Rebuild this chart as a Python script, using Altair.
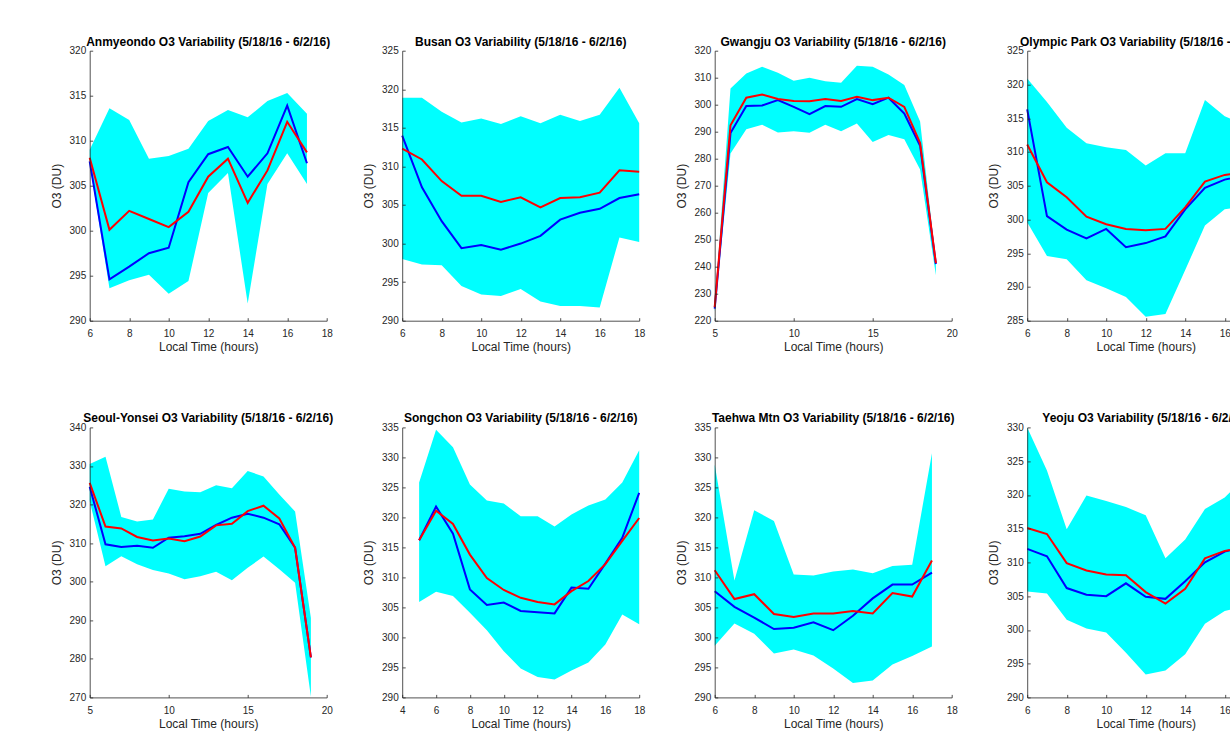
import altair as alt
import pandas as pd

# ---------------- data ----------------
TITLE_SUFFIX = " O3 Variability (5/18/16 - 6/2/16)"

ANM_HOURS = [6, 7, 8, 9, 10, 11, 12, 13, 14, 15, 16, 17]
ANM_BLUE = [307.7, 294.6, 296.0, 297.5, 298.1, 305.4, 308.5, 309.3, 306.0, 308.6, 313.9, 307.5]
ANM_RED = [308.1, 300.1, 302.2, 301.3, 300.4, 302.1, 306.0, 308.0, 303.1, 306.7, 312.1, 308.7]
ANM_MAX = [309.0, 313.6, 312.3, 308.0, 308.3, 309.1, 312.2, 313.4, 312.6, 314.4, 315.3, 313.0]
ANM_MIN = [307.4, 293.6, 294.5, 295.1, 293.0, 294.4, 304.2, 306.4, 291.9, 305.2, 308.6, 305.2]

BUS_HOURS = [6, 7, 8, 9, 10, 11, 12, 13, 14, 15, 16, 17, 18]
BUS_BLUE = [314.0, 307.3, 302.9, 299.4, 299.8, 299.2, 300.0, 301.0, 303.1, 304.0, 304.5, 305.9, 306.4]
BUS_RED = [312.3, 310.9, 308.1, 306.2, 306.2, 305.4, 306.0, 304.7, 305.9, 306.0, 306.6, 309.5, 309.3]
BUS_MAX = [318.9, 318.9, 317.1, 315.7, 316.2, 315.5, 316.5, 315.6, 316.7, 315.9, 316.7, 320.2, 315.6]
BUS_MIN = [298.0, 297.3, 297.2, 294.5, 293.4, 293.2, 294.1, 292.5, 291.9, 291.9, 291.7, 300.8, 300.2]

GWA_HOURS = [5, 6, 7, 8, 9, 10, 11, 12, 13, 14, 15, 16, 17, 18, 19]
GWA_BLUE = [224.5, 289.5, 299.5, 299.7, 301.7, 299.2, 296.5, 299.5, 299.2, 302.1, 300.2, 302.6, 296.7, 284.8, 241.0]
GWA_RED = [225.0, 292.4, 302.6, 303.8, 302.1, 301.4, 301.3, 302.1, 301.4, 302.9, 301.7, 302.6, 299.2, 285.8, 241.3]
GWA_MAX = [225.5, 306.0, 311.6, 314.1, 311.8, 308.9, 310.0, 308.7, 308.1, 314.4, 314.1, 311.2, 307.3, 293.8, 242.0]
GWA_MIN = [223.3, 281.9, 290.9, 292.6, 289.7, 290.2, 289.6, 292.6, 290.2, 293.0, 286.2, 288.8, 287.2, 276.0, 236.8]

OLY_HOURS = [6, 7, 8, 9, 10, 11, 12, 13, 14, 15, 16, 17]
OLY_BLUE = [316.3, 300.5, 298.5, 297.2, 298.6, 295.9, 296.5, 297.5, 301.5, 304.7, 305.9, 306.5]
OLY_RED = [311.1, 305.5, 303.3, 300.4, 299.3, 298.6, 298.4, 298.6, 301.8, 305.6, 306.6, 307.0]
OLY_MAX = [320.9, 317.4, 313.6, 311.3, 310.7, 310.3, 308.0, 309.8, 309.8, 317.7, 315.3, 314.0]
OLY_MIN = [299.6, 294.6, 294.1, 291.0, 289.8, 288.5, 285.6, 286.0, 292.5, 299.1, 301.5, 302.0]

SEO_HOURS = [5, 6, 7, 8, 9, 10, 11, 12, 13, 14, 15, 16, 17, 18, 19]
SEO_BLUE = [324.6, 309.7, 309.0, 309.3, 308.8, 311.4, 311.8, 312.4, 314.7, 316.6, 317.6, 316.6, 314.9, 308.8, 280.4]
SEO_RED = [325.6, 314.3, 313.8, 311.6, 310.7, 311.2, 310.5, 311.7, 314.6, 315.0, 318.3, 319.7, 316.4, 308.8, 280.4]
SEO_MAX = [330.5, 332.4, 316.8, 315.6, 316.1, 324.1, 323.4, 323.2, 325.0, 324.2, 328.7, 327.3, 322.6, 318.2, 290.6]
SEO_MIN = [320.9, 304.0, 306.6, 304.5, 303.0, 302.1, 300.6, 301.4, 302.6, 300.4, 303.6, 306.5, 303.2, 299.7, 270.2]

SON_HOURS = [5, 6, 7, 8, 9, 10, 11, 12, 13, 14, 15, 16, 17, 18]
SON_BLUE = [316.2, 321.8, 317.3, 308.0, 305.4, 305.8, 304.4, 304.2, 304.0, 308.3, 308.1, 312.3, 316.6, 324.1]
SON_RED = [316.2, 321.1, 318.9, 313.8, 309.9, 307.9, 306.6, 305.9, 305.5, 307.7, 309.4, 312.2, 316.1, 319.9]
SON_MAX = [325.8, 334.6, 331.7, 325.5, 322.8, 322.3, 320.2, 320.2, 318.5, 320.5, 322.0, 323.0, 325.8, 331.2]
SON_MIN = [305.9, 307.6, 306.9, 304.1, 301.2, 297.7, 294.8, 293.4, 293.0, 294.5, 295.8, 298.8, 303.8, 302.2]

TAE_HOURS = [6, 7, 8, 9, 10, 11, 12, 13, 14, 15, 16, 17]
TAE_BLUE = [307.7, 305.1, 303.3, 301.4, 301.6, 302.5, 301.2, 303.6, 306.5, 308.8, 308.8, 310.8]
TAE_RED = [311.2, 306.4, 307.2, 303.9, 303.4, 304.0, 304.0, 304.4, 304.0, 307.4, 306.8, 312.8]
TAE_MAX = [328.8, 309.5, 321.2, 319.4, 310.5, 310.3, 311.0, 311.3, 310.7, 311.9, 312.1, 330.7]
TAE_MIN = [298.6, 302.3, 300.6, 297.3, 298.0, 297.0, 294.8, 292.4, 292.8, 295.5, 296.9, 298.5]

YEO_HOURS = [6, 7, 8, 9, 10, 11, 12, 13, 14, 15, 16, 17]
YEO_BLUE = [312.0, 310.9, 306.2, 305.2, 305.0, 306.9, 304.9, 304.6, 307.2, 310.0, 311.6, 312.3]
YEO_RED = [315.1, 314.2, 309.9, 308.8, 308.2, 308.1, 305.6, 303.9, 306.1, 310.6, 311.7, 312.2]
YEO_MAX = [330.0, 323.6, 314.9, 319.9, 319.1, 318.2, 317.0, 310.6, 313.4, 317.9, 319.6, 322.5]
YEO_MIN = [305.7, 305.4, 301.5, 300.2, 299.6, 296.6, 293.4, 294.0, 296.4, 300.9, 302.8, 303.5]

# axis ranges / tick values per panel
X_6_18 = [6, 8, 10, 12, 14, 16, 18]
X_5_20 = [5, 10, 15, 20]
X_4_18 = [4, 6, 8, 10, 12, 14, 16, 18]

FONT = "Liberation Sans"
AX = "#262626"
PW, PH = 237, 270
LEFT, TOP = 89.7, 50.7


def panel(name, hours, blue, red, lo, hi, xdom, xticks, ydom, ystep):
    yticks = list(range(ydom[0], ydom[1] + 1, ystep))
    df = pd.DataFrame({"hour": hours, "blue": blue, "red": red, "lo": lo, "hi": hi})
    xs = alt.Scale(domain=xdom, nice=False, zero=False)
    ys = alt.Scale(domain=ydom, nice=False, zero=False)
    ghost_x = alt.Axis(orient="bottom", values=xticks, offset=-3, domain=False, labels=False,
                       ticks=True, tickSize=3, tickColor=AX, tickWidth=0.8, grid=False,
                       title=None, zindex=1)
    ghost_y = alt.Axis(orient="left", values=yticks, offset=-3, domain=False, labels=False,
                       ticks=True, tickSize=3, tickColor=AX, tickWidth=0.8, grid=False,
                       title=None, zindex=1)
    main_x = alt.Axis(orient="bottom", values=xticks, domain=True, domainColor=AX,
                      domainWidth=0.8, ticks=False, labelPadding=8, labelFlush=False,
                      labelOverlap=False, labelColor=AX, labelFontSize=10, labelFont=FONT,
                      grid=False, title="Local Time (hours)", titleFont=FONT,
                      titleFontSize=12, titleFontWeight="normal", titleColor=AX,
                      titlePadding=3, zindex=1)
    main_y = alt.Axis(orient="left", values=yticks, domain=True, domainColor=AX,
                      domainWidth=0.8, ticks=False, labelPadding=4, labelFlush=False,
                      labelOverlap=False, labelColor=AX, labelFontSize=10, labelFont=FONT,
                      grid=False, title="O3 (DU)", titleFont=FONT, titleFontSize=12,
                      titleFontWeight="normal", titleColor=AX, titlePadding=6, zindex=1)
    base = alt.Chart(df)
    area = base.mark_area(color="#00FFFF", opacity=1).encode(
        x=alt.X("hour:Q", scale=xs, axis=ghost_x),
        y=alt.Y("lo:Q", scale=ys, axis=ghost_y),
        y2="hi:Q",
    )
    bl = base.mark_line(color="#0000FF", strokeWidth=2).encode(
        x=alt.X("hour:Q", scale=xs, axis=main_x),
        y=alt.Y("blue:Q", scale=ys, axis=main_y),
    )
    rl = base.mark_line(color="#FF0000", strokeWidth=2).encode(
        x=alt.X("hour:Q", scale=xs, axis=None),
        y=alt.Y("red:Q", scale=ys, axis=None),
    )
    return (
        alt.layer(area, bl, rl)
        .resolve_axis(x="independent", y="independent")
        .properties(
            width=PW,
            height=PH,
            title=alt.TitleParams(name + TITLE_SUFFIX, font=FONT, fontSize=12,
                                  fontWeight="bold", color="#000000", anchor="middle",
                                  offset=-3),
        )
    )


p1 = panel("Anmyeondo", ANM_HOURS, ANM_BLUE, ANM_RED, ANM_MIN, ANM_MAX, [6, 18], X_6_18, [290, 320], 5)
p2 = panel("Busan", BUS_HOURS, BUS_BLUE, BUS_RED, BUS_MIN, BUS_MAX, [6, 18], X_6_18, [290, 325], 5)
p3 = panel("Gwangju", GWA_HOURS, GWA_BLUE, GWA_RED, GWA_MIN, GWA_MAX, [5, 20], X_5_20, [220, 320], 10)
p4 = panel("Olympic Park", OLY_HOURS, OLY_BLUE, OLY_RED, OLY_MIN, OLY_MAX, [6, 18], X_6_18, [285, 325], 5)
p5 = panel("Seoul-Yonsei", SEO_HOURS, SEO_BLUE, SEO_RED, SEO_MIN, SEO_MAX, [5, 20], X_5_20, [270, 340], 10)
p6 = panel("Songchon", SON_HOURS, SON_BLUE, SON_RED, SON_MIN, SON_MAX, [4, 18], X_4_18, [290, 335], 5)
p7 = panel("Taehwa Mtn", TAE_HOURS, TAE_BLUE, TAE_RED, TAE_MIN, TAE_MAX, [6, 18], X_6_18, [290, 335], 5)
p8 = panel("Yeoju", YEO_HOURS, YEO_BLUE, YEO_RED, YEO_MIN, YEO_MAX, [6, 18], X_6_18, [290, 330], 5)

chart = (
    alt.concat(p1, p2, p3, p4, p5, p6, p7, p8, columns=4,
               spacing={"row": 106.7, "column": 75.5}, bounds="flush")
    .properties(autosize=alt.AutoSizeParams(type="none"),
                padding={"left": LEFT, "top": TOP, "right": 1230 - LEFT, "bottom": 743 - TOP},
                background="white")
    .configure_view(stroke=None)
)

chart.save("out.html", embed_options={"renderer": "svg", "actions": False})
